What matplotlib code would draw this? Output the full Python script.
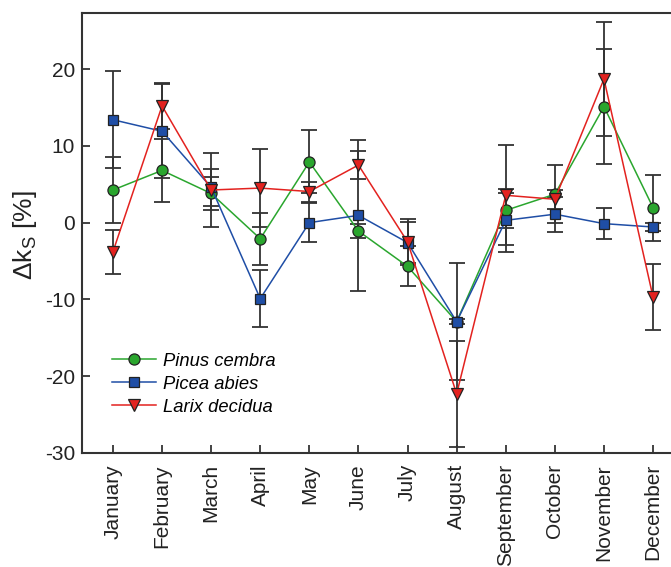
import numpy as np
import matplotlib
matplotlib.use('Agg')
import matplotlib.pyplot as plt

plt.rcParams['font.family'] = ['Liberation Sans', 'DejaVu Sans']
plt.rcParams['mathtext.fontset'] = 'custom'
plt.rcParams['mathtext.rm'] = 'Liberation Sans'
plt.rcParams['mathtext.it'] = 'Liberation Sans:italic'
plt.rcParams['axes.unicode_minus'] = False

# months and monthly change of k_s [%] with error bars
months = ['January', 'February', 'March', 'April', 'May', 'June', 'July',
          'August', 'September', 'October', 'November', 'December']

pinus = [4.25, 6.8, 3.8, -2.1, 7.9, -1.1, -5.7, -12.9, 1.6, 3.7, 15.1, 1.95]
pinus_err = [4.35, 4.1, 2.2, 3.4, 4.1, 0.9, 2.6, 7.6, 2.3, 3.8, 7.5, 4.3]

picea = [13.4, 11.9, 4.6, -9.9, 0.0, 0.95, -2.6, -12.9, 0.3, 1.1, -0.13, -0.57]
picea_err = [6.3, 6.1, 2.4, 3.7, 2.5, 9.8, 2.7, 0.3, 4.1, 2.3, 2.0, 0.55]

larix = [-3.8, 15.2, 4.25, 4.5, 4.05, 7.5, -2.5, -22.3, 3.56, 3.04, 18.7, -9.7]
larix_err = [2.9, 3.0, 4.8, 5.1, 1.3, 1.8, 3.0, 6.9, 6.5, 1.2, 7.4, 4.3]

x = np.arange(1, len(months) + 1)

fig = plt.figure(figsize=(6.71, 5.67), dpi=100)
# axes run past the right edge, like the cropped original
ax = fig.add_axes([82 / 671, 1 - 453 / 567, 602 / 671, 440 / 567])

series = [
    ('Pinus cembra', pinus, pinus_err, '#2aa62e', 'o', 8.0),
    ('Picea abies', picea, picea_err, '#1f4ea6', 's', 7.3),
    ('Larix decidua', larix, larix_err, '#e3221f', 'v', 8.5),
]

for name, y, err, col, mk, ms in series:
    ax.errorbar(x, y, yerr=err, fmt='none', ecolor='#333333', elinewidth=1.3,
                capsize=5.5, capthick=1.3, zorder=2)
for i, (name, y, err, col, mk, ms) in enumerate(series):
    ax.plot(x, y, color=col, lw=1.1, marker=mk, ms=ms, mfc=col,
            mec='#222222', mew=0.9, label=name, zorder=3 + i)

ax.set_xlim(0.37, 12.63)
ax.set_ylim(-30, 27.3)
ax.set_yticks([-30, -20, -10, 0, 10, 20])
ax.set_xticks(x)
ax.set_xticklabels(months, rotation=90)
ax.tick_params(direction='in', length=6, width=1.2, labelsize=15, colors='#222222')
ax.tick_params(axis='x', pad=8)
ax.tick_params(axis='y', pad=5)
for s in ax.spines.values():
    s.set_linewidth(1.5)
    s.set_color('#333333')

ax.set_ylabel(r'$\Delta\mathrm{k}_\mathrm{S}$ [%]', fontsize=19, color='#222222')
ax.yaxis.set_label_coords(-0.071, 0.495)

leg = ax.legend(loc='upper left', bbox_to_anchor=(0.037, 0.245), frameon=False,
                prop={'style': 'italic', 'size': 13.2}, handlelength=2.4,
                handletextpad=0.4, labelspacing=0.33, borderaxespad=0)

plt.savefig('out.png', dpi=100)
plt.close()
